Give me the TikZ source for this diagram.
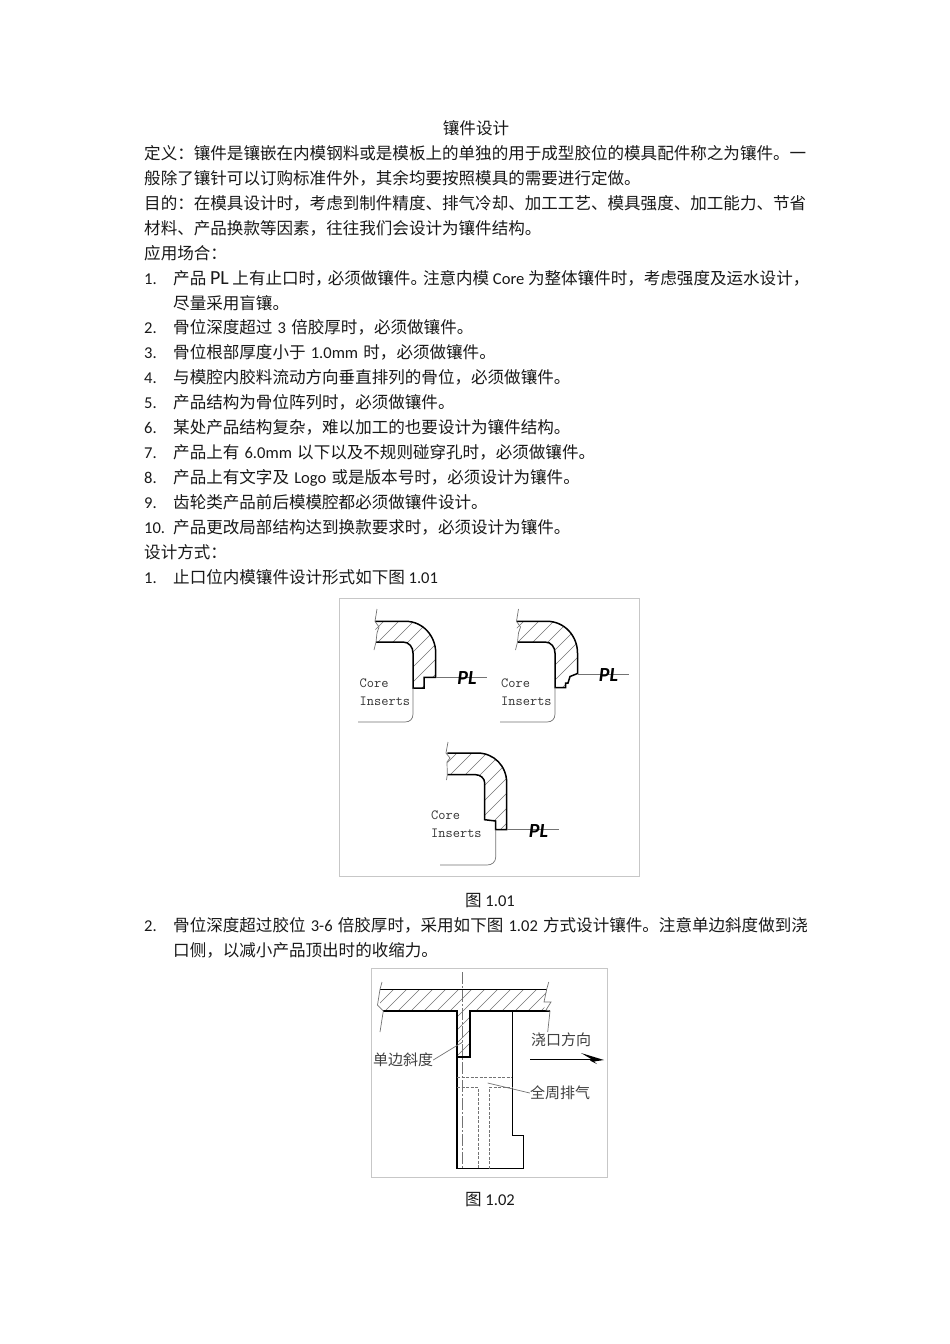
\documentclass[tikz,border=0pt]{standalone}
\usepackage{fontspec}
\setmainfont{Noto Sans CJK SC}
\newfontfamily\latinfont{Carlito}
\usepackage{xcolor}
\newcommand{\lat}[1]{{\latinfont #1}}
\newcommand{\latk}[1]{\kern1.5pt{\latinfont #1}\kern1.5pt\relax}
% #1 path, #2 first line, #3 second line, #4 last line
\newcommand{\hatchfill}[4]{%
	\begin{scope}
	\clip #1;
	\foreach \x in {#2,#3,...,#4}
	\draw[hatchline] (\x,1200) -- (\x+800,400);
	\end{scope}}
\tikzset{
	body/.style={font=\fontsize{16.55}{16.55}\selectfont,anchor=base west,inner sep=0pt,text=black!90},
	caption/.style={body,anchor=base},
	framebox/.style={draw=black!22,line width=0.9pt},
	outline/.style={line width=1.5pt,line join=miter},
	thinline/.style={draw=black!55,line width=0.7pt},
	hatchline/.style={draw=black!55,line width=0.45pt},
	dashline/.style={draw=black!55,line width=0.6pt,dashed,dash pattern=on 3pt off 1.5pt},
	corelabel/.style={font=\fontsize{14}{15}\selectfont\ttfamily,inner sep=0pt,text=black!80,align=left,anchor=north west},
	pllabel/.style={font=\fontsize{20}{20}\selectfont\latinfont\bfseries\itshape,inner sep=0pt,text=black},
	figlabel/.style={font=\fontsize{15}{15}\selectfont,inner sep=0pt,text=black!75},
}

\begin{document}
\begin{tikzpicture}[x=1pt,y=-1pt]
	\path[use as bounding box,fill=white] (0,0) rectangle (950,1344);

	% text
	\node[caption] (title) at (476,134) {镶件设计};
	\foreach \y/\n/\t in {
		159/def1/{定义：镶件是镶嵌在内模钢料或是模板上的单独的用于成型胶位的模具配件称之为镶件。一},
		184/def2/{般除了镶针可以订购标准件外，其余均要按照模具的需要进行定做。},
		209/aim1/{目的：在模具设计时，考虑到制件精度、排气冷却、加工工艺、模具强度、加工能力、节省},
		234/aim2/{材料、产品换款等因素，往往我们会设计为镶件结构。},
		259/use/{应用场合：},
		558/way/{设计方式：}}
	\node[body] (\n) at (144,\y) {\t};

	\foreach \y/\n/\t in {
		284/1/{产品 {\fontsize{20}{20}\selectfont\lat{PL}} 上有止口时，\kern-4pt 必须做镶件。\kern-4pt 注意内模 \lat{Core} 为整体镶件时，考虑强度及运水设计，},
		333/2/{骨位深度超过 \latk{3} 倍胶厚时，必须做镶件。},
		358/3/{骨位根部厚度小于 \latk{1.0mm} 时，必须做镶件。},
		383/4/{与模腔内胶料流动方向垂直排列的骨位，必须做镶件。},
		408/5/{产品结构为骨位阵列时，必须做镶件。},
		433/6/{某处产品结构复杂，难以加工的也要设计为镶件结构。},
		458/7/{产品上有 \latk{6.0mm} 以下以及不规则碰穿孔时，必须做镶件。},
		483/8/{产品上有文字及 \latk{Logo} 或是版本号时，必须设计为镶件。},
		508/9/{齿轮类产品前后模模腔都必须做镶件设计。},
		533/10/{产品更改局部结构达到换款要求时，必须设计为镶件。}}
	{
		\node[body] (num\n) at (144,\y) {\lat{\n.}};
		\node[body] (item\n) at (173,\y) {\t};
	}
	\node[body] (item1b) at (173,309) {尽量采用盲镶。};
	\node[body] (numa) at (144,583) {\lat{1.}};
	\node[body] (waya) at (173,583) {止口位内模镶件设计形式如下图 \lat{1.01}};
	\node[caption] (cap1) at (490,906) {图 \lat{1.01}};
	\node[body] (numb) at (144,931) {\lat{2.}};
	\node[body] (wayb) at (173,931) {骨位深度超过胶位 \latk{3-6} 倍胶厚时，采用如下图 \latk{1.02} 方式设计镶件。注意单边斜度做到浇};
	\node[body] (wayc) at (173,956) {口侧，以减小产品顶出时的收缩力。};
	\node[caption] (cap2) at (490,1205) {图 \lat{1.02}};

	% figure 1.01
	\draw[framebox] (339.5,598.5) rectangle (639.5,876.5);

	\def\shapea{(375,621.3) -- (405.5,621.3) .. controls (423,621.3) and (435.7,636) .. (435.7,653) -- (435.7,677.3) -- (424,677.3) -- (424,688) -- (413,688) -- (413,653) .. controls (413,647) and (409,642) .. (403,642) -- (376,642) -- cycle}
	\hatchfill{\shapea}{-210}{-195}{-60}
	\draw[outline] (375,621.3) -- (405.5,621.3) .. controls (423,621.3) and (435.7,636) .. (435.7,653) -- (435.7,677.3) -- (424,677.3) -- (424,688) -- (413,688) -- (413,653) .. controls (413,647) and (409,642) .. (403,642) -- (376,642);
	\draw[thinline] (377,609) -- (375,621.3) -- (379,627) -- (377,633) -- (376,642) -- (374,650);
	\draw[thinline] (435.7,677.3) -- (487,677.3);
	\draw[thinline] (413,688) -- (413,714) .. controls (413,719) and (410,722) .. (405,722) -- (358,722);
	\node[corelabel] (corea) at (359.5,678.5) {Core\\[3pt]Inserts};
	\node[pllabel] (pla) at (467,678) {PL};

	\def\shapeb{(516.5,621.3) -- (547,621.3) .. controls (564.5,621.3) and (577.5,636) .. (577.5,653) -- (577.5,673.5) -- (570,676.5) -- (568,683) -- (565.5,683) -- (565.5,687.5) -- (555,687.5) -- (555,653) .. controls (555,647) and (551,642) .. (545,642) -- (517.5,642) -- cycle}
	\hatchfill{\shapeb}{-70}{-55}{80}
	\draw[outline] (516.5,621.3) -- (547,621.3) .. controls (564.5,621.3) and (577.5,636) .. (577.5,653) -- (577.5,673.5) -- (570,676.5) -- (568,683) -- (565.5,683) -- (565.5,687.5) -- (555,687.5) -- (555,653) .. controls (555,647) and (551,642) .. (545,642) -- (517.5,642);
	\draw[thinline] (518.5,609) -- (516.5,621.3) -- (520.5,627) -- (518.5,633) -- (517.5,642) -- (515.5,650);
	\draw[thinline] (577.5,674.7) -- (629,674.7);
	\draw[thinline] (555,687.5) -- (555,714) .. controls (555,719) and (552,722) .. (547,722) -- (500,722);
	\node[corelabel] (coreb) at (501,678.5) {Core\\[3pt]Inserts};
	\node[pllabel] (plb) at (608.5,675) {PL};

	\def\shapec{(447.3,753) -- (477.3,753) .. controls (494,753) and (506.7,766) .. (506.7,783) -- (506.7,829.7) -- (495.7,829.7) -- (495.7,821) -- (484.7,819.7) -- (484.7,783) .. controls (484.7,778) and (480,774.7) .. (475.7,774.7) -- (447.3,774.7) -- cycle}
	\hatchfill{\shapec}{-5}{10}{150}
	\draw[outline] (447.3,753) -- (477.3,753) .. controls (494,753) and (506.7,766) .. (506.7,783) -- (506.7,829.7) -- (495.7,829.7) -- (495.7,821) -- (484.7,819.7) -- (484.7,783) .. controls (484.7,778) and (480,774.7) .. (475.7,774.7) -- (447.3,774.7);
	\draw[thinline] (448,742) -- (446,753) -- (450,758) -- (447,762) -- (447.3,774.7) -- (446.5,780);
	\draw[thinline] (506.7,829.7) -- (559,829.7);
	\draw[thinline] (495.7,829.7) -- (495.7,857) .. controls (495.7,862) and (492,865) .. (487,865) -- (440,865);
	\node[corelabel] (corec) at (431,810.5) {Core\\[3pt]Inserts};
	\node[pllabel] (plc) at (538.5,831) {PL};

	% figure 1.02
	\draw[framebox] (371.5,968.5) rectangle (607.5,1177.5);

	\def\shaped{(380,989.3) -- (546.7,989.3) -- (544,1011) -- (470,1011) -- (470,1057) -- (457,1057) -- (457,1011) -- (380,1011) -- cycle}
	\hatchfill{\shaped}{170}{183}{370}

	\draw[outline] (380,989.3) -- (546.7,989.3);
	\draw[outline] (383.3,1011) -- (457,1011) -- (457,1168.7) -- (523.7,1168.7) -- (523.7,1135.3) -- (512.3,1135.3) -- (512.3,1011) -- (550,1011);
	\draw[outline] (457,1057) -- (470,1057) -- (470,1011) -- (512.3,1011);
	\draw[thinline] (382,982) -- (380,989.3) -- (377.5,1005) -- (383.3,1011) -- (380,1032);
	\draw[thinline] (548.7,982) -- (546.7,989.3) -- (544,1002) -- (551,1002) -- (546,1010) -- (550,1011) -- (547.7,1032);
	\draw[thinline,dash pattern=on 12pt off 2pt on 2pt off 2pt] (462.7,972) -- (462.7,1168.7);

	\draw[dashline] (457,1077) -- (512.3,1077);
	\draw[dashline] (457,1087.7) -- (478.3,1087.7) -- (478.3,1168.7);
	\draw[dashline] (489.3,1168.7) -- (489.3,1087.7) -- (512.3,1087.7);

	\node[figlabel] (slope) at (403,1060) {单边斜度};
	\node[figlabel] (gate) at (561,1040) {浇口方向};
	\node[figlabel] (vent) at (560,1093) {全周排气};
	\coordinate (slopeend) at (462.7,1042);
	\coordinate (ventend) at (487.7,1083);
	\coordinate (flowstart) at (530,1059.7);
	\coordinate (flowend) at (593,1059.7);
	\draw[thinline] (slope.east) -- (slopeend);
	\draw[thinline] (vent.west) -- (ventend);
	\draw[line width=1.4pt] (flowstart) -- (flowend);
	\fill[black] (581,1053) -- (604,1060) -- (594,1061.5) -- (597,1064) -- (590,1060.5) -- (592,1059.5) -- cycle;
\end{tikzpicture}
\end{document}
